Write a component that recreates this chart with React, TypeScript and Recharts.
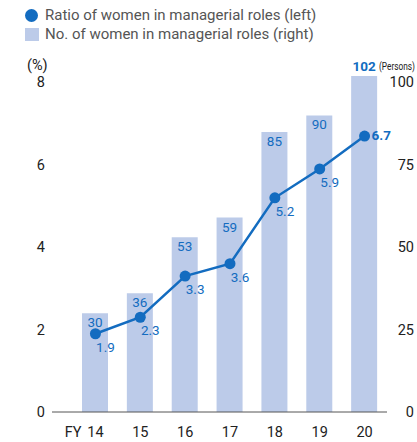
import React from 'react';
import { ComposedChart, Bar, Line, XAxis, YAxis, LabelList } from 'recharts';

const years = ['14', '15', '16', '17', '18', '19', '20'];
const ratio = [1.9, 2.3, 3.3, 3.6, 5.2, 5.9, 6.7];
const count = [30, 36, 53, 59, 85, 90, 102];
const leftTicks = [0, 2, 4, 6, 8];
const rightTicks = [0, 25, 50, 75, 100];

const data = years.map((y, i) => ({ year: y, ratio: ratio[i], count: count[i] }));

const BLUE = '#136cc0';
const BAR = '#bccbe9';
const FONT = 'Roboto, "Liberation Sans", sans-serif';

const XTick = (props: any) => {
  const { x, y, payload, index } = props;
  return (
    <g>
      {index === 0 && (
        <text x={x - 14} y={y + 17} textAnchor="end" fontSize={14.5} fill="#222" fontFamily={FONT}>FY</text>
      )}
      <text x={x} y={y + 17} textAnchor="middle" fontSize={14.5} fill="#222" fontFamily={FONT}>{payload.value}</text>
    </g>
  );
};

const RightTick = (props: any) => {
  const { y, payload } = props;
  return (
    <text x={414} y={y + 5} textAnchor="end" fontSize={14.5} fill="#222" fontFamily={FONT}>{payload.value}</text>
  );
};

const LeftTick = (props: any) => {
  const { y, payload } = props;
  return (
    <text x={45} y={y + 5} textAnchor="end" fontSize={14.5} fill="#222" fontFamily={FONT}>{payload.value}</text>
  );
};

const BarLabel = (props: any) => {
  const { x, y, width, value, index } = props;
  const last = index === count.length - 1;
  return (
    <text
      x={x + width / 2}
      y={last ? y - 5 : y + 14}
      textAnchor="middle"
      fontSize={13.5}
      fontWeight={last ? 700 : 400}
      fill={BLUE}
      fontFamily={FONT}
    >
      {value}
    </text>
  );
};

const LineLabel = (props: any) => {
  const { x, y, value, index } = props;
  const last = index === ratio.length - 1;
  return (
    <text
      x={last ? x + 7 : x + 10}
      y={last ? y + 4 : y + 18}
      textAnchor={last ? 'start' : 'middle'}
      fontSize={13.5}
      fontWeight={last ? 700 : 400}
      fill={BLUE}
      fontFamily={FONT}
    >
      {value.toFixed(1)}
    </text>
  );
};

export default function App() {
  return (
    <div style={{ position: 'absolute', left: 0, top: 0, width: 417, height: 442, background: '#fff', fontFamily: FONT }}>
      <div style={{ position: 'absolute', left: 25, top: 6, fontSize: 15, color: '#555', lineHeight: '19px' }}>
        <div style={{ display: 'flex', alignItems: 'center' }}>
          <span style={{ width: 13, height: 13, borderRadius: '50%', background: BLUE, display: 'inline-block', marginRight: 7 }} />
          Ratio of women in managerial roles (left)
        </div>
        <div style={{ display: 'flex', alignItems: 'center' }}>
          <span style={{ width: 14, height: 13, background: BAR, display: 'inline-block', marginRight: 6 }} />
          No. of women in managerial roles (right)
        </div>
      </div>
      <div style={{ position: 'absolute', left: 27, top: 57, fontSize: 14.5, color: '#222' }}>(%)</div>
      <div style={{ position: 'absolute', left: 379, top: 59, fontSize: 11.5, color: '#222', transform: 'scaleX(0.72)', transformOrigin: 'left', whiteSpace: 'nowrap' }}>(Persons)</div>
      <ComposedChart width={417} height={442} data={data} margin={{ top: 66, right: 0, bottom: 0, left: 0 }}>
        <XAxis
          dataKey="year"
          height={30}
          padding={{ left: 21, right: 0 }}
          tickLine={false}
          axisLine={{ stroke: '#555' }}
          tick={<XTick />}
          interval={0}
        />
        <YAxis
          yAxisId="left"
          width={52}
          domain={[0, 8.4]}
          ticks={leftTicks}
          axisLine={false}
          tickLine={false}
          tick={<LeftTick />}
        />
        <YAxis
          yAxisId="right"
          orientation="right"
          width={30}
          domain={[0, 105]}
          ticks={rightTicks}
          axisLine={false}
          tickLine={false}
          tick={<RightTick />}
        />
        <Bar yAxisId="right" dataKey="count" fill={BAR} barSize={26} isAnimationActive={false}>
          <LabelList dataKey="count" content={<BarLabel />} />
        </Bar>
        <Line
          yAxisId="left"
          dataKey="ratio"
          stroke={BLUE}
          strokeWidth={2.5}
          dot={{ r: 5.5, fill: BLUE, stroke: BLUE, strokeWidth: 0 }}
          isAnimationActive={false}
        >
          <LabelList dataKey="ratio" content={<LineLabel />} />
        </Line>
      </ComposedChart>
    </div>
  );
}
